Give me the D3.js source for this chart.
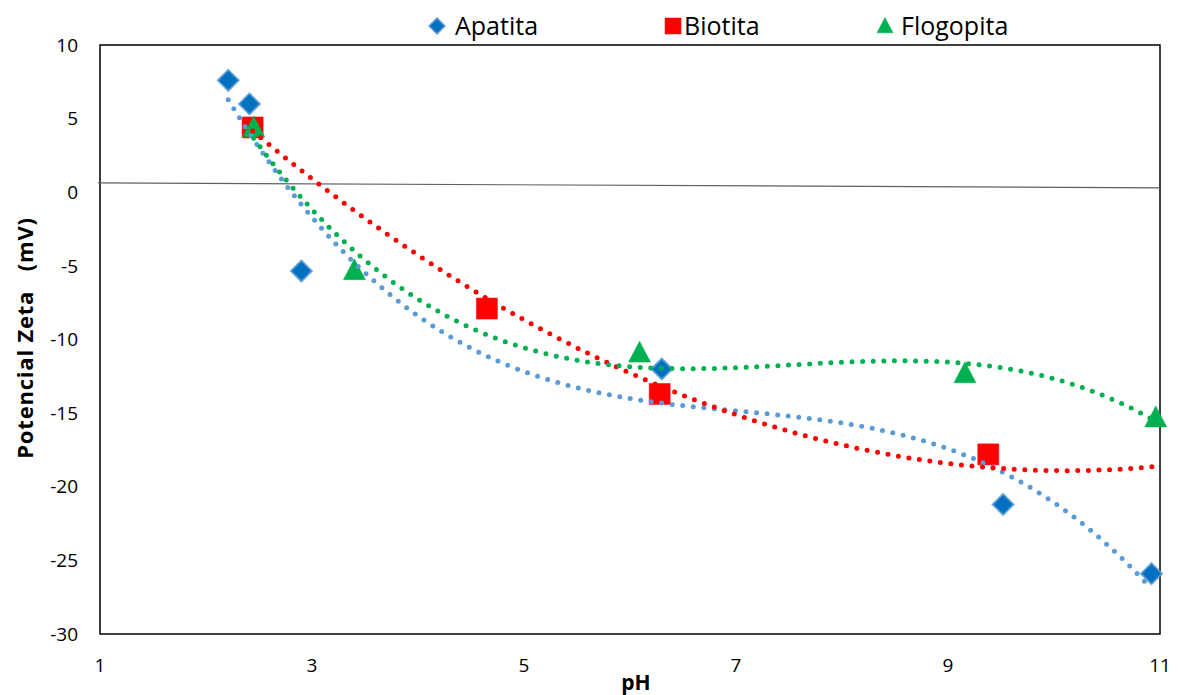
<!DOCTYPE html>
<html>
<head>
<meta charset="utf-8">
<script src="https://cdn.jsdelivr.net/npm/d3@7"></script>
<style>
  html, body { margin: 0; padding: 0; background: #fff; }
  svg { display: block; }
  text { font-family: "Open Sans", Lato, sans-serif; fill: #000; }
</style>
</head>
<body>
<svg id="chart" width="1178" height="695"></svg>
<script>
// Zeta potential vs pH for three minerals
const apatitaPH   = [2.21, 2.41, 2.90, 6.30, 9.52, 10.92];
const apatitaZeta = [7.6, 6.0, -5.35, -12.0, -21.2, -25.9];

const biotitaPH   = [2.44, 4.65, 6.28, 9.38];
const biotitaZeta = [4.4, -7.9, -13.7, -17.8];

const flogopitaPH   = [2.45, 3.40, 6.09, 9.16, 10.96];
const flogopitaZeta = [4.4, -5.3, -10.9, -12.3, -15.3];

// Biotita trendline equation: y = c0 + c1*x + c2*x^2
const biotitaTrendCoef = [21.15, -7.92, 0.3915];

const xTicks = [1, 3, 5, 7, 9, 11];
const yTicks = [10, 5, 0, -5, -10, -15, -20, -25, -30];

// near-zero reference line endpoints (pH, mV)
const refLinePH = [1, 11];
const refLineZeta = [0.64, 0.30];

const series = [
  { name: "Apatita",   x: apatitaPH,   y: apatitaZeta,   order: 3, end: 10.92,
    fill: "#0070C0", stroke: "#5B9BD5", trend: "#5B9BD5", shape: "diamond" },
  { name: "Biotita",   x: biotitaPH,   y: biotitaZeta,   coef: biotitaTrendCoef, end: 10.95,
    fill: "#FF0000", stroke: "#FF0000", trend: "#FF0000", shape: "square" },
  { name: "Flogopita", x: flogopitaPH, y: flogopitaZeta, order: 3, end: 10.95,
    fill: "#00B050", stroke: "#00B050", trend: "#00B050", shape: "triangle" }
];

const svg = d3.select("#chart");
const m = { left: 100, right: 1160, top: 45, bottom: 634 };

const x = d3.scaleLinear().domain([1, 11]).range([m.left, m.right]);
const y = d3.scaleLinear().domain([-30, 10]).range([m.bottom, m.top]);

// least-squares polynomial fit (Gauss-Jordan on the normal equations)
function polyfit(xs, ys, order) {
  const n = order + 1;
  const A = Array.from({ length: n }, () => new Array(n + 1).fill(0));
  for (let k = 0; k < xs.length; k++) {
    for (let i = 0; i < n; i++) {
      for (let j = 0; j < n; j++) A[i][j] += Math.pow(xs[k], i + j);
      A[i][n] += ys[k] * Math.pow(xs[k], i);
    }
  }
  for (let c = 0; c < n; c++) {
    let p = c;
    for (let r = c + 1; r < n; r++) {
      if (Math.abs(A[r][c]) > Math.abs(A[p][c])) p = r;
    }
    const tmp = A[c]; A[c] = A[p]; A[p] = tmp;
    for (let r = 0; r < n; r++) {
      if (r === c) continue;
      const f = A[r][c] / A[c][c];
      for (let j = c; j <= n; j++) A[r][j] -= f * A[c][j];
    }
  }
  return A.map((row, i) => row[n] / row[i]);
}
const evalPoly = (cf, v) => cf.reduce((s, c, i) => s + c * Math.pow(v, i), 0);

// plot frame
svg.append("rect")
  .attr("x", x(1)).attr("y", y(10))
  .attr("width", x(11) - x(1)).attr("height", y(-30) - y(10))
  .attr("fill", "none").attr("stroke", "#000").attr("stroke-width", 1.5);

// reference line
svg.append("line")
  .attr("x1", x(refLinePH[0]) - 2).attr("y1", y(refLineZeta[0]))
  .attr("x2", x(refLinePH[1])).attr("y2", y(refLineZeta[1]))
  .attr("stroke", "#606060").attr("stroke-width", 1.2);

// y tick labels
const yAxis = svg.append("g");
yAxis.selectAll("text").data(yTicks).join("text")
  .attr("x", 78).attr("y", d => y(d)).attr("dy", "0.35em")
  .attr("text-anchor", "end").attr("font-size", 19).text(d => d);

// x tick labels
const xAxis = svg.append("g");
xAxis.selectAll("text").data(xTicks).join("text")
  .attr("x", d => x(d)).attr("y", 672)
  .attr("text-anchor", "middle").attr("font-size", 19).text(d => d);

// axis titles
svg.append("text").attr("x", 636).attr("y", 690)
  .attr("text-anchor", "middle").attr("font-size", 21).attr("font-weight", "bold")
  .text("pH");
svg.append("text")
  .attr("transform", "translate(33,338) rotate(-90)")
  .attr("text-anchor", "middle").attr("font-size", 22).attr("font-weight", "bold")
  .attr("letter-spacing", 0.8)
  .attr("xml:space", "preserve")
  .text("Potencial Zeta   (mV)");

// marker shapes
function marker(shape, size) {
  const h = size / 2;
  if (shape === "diamond") return `M0,${-h * 1.05}L${h * 1.05},0L0,${h * 1.05}L${-h * 1.05},0Z`;
  if (shape === "square") return `M${-h},${-h}H${h}V${h}H${-h}Z`;
  return `M0,${-h * 1.05}L${h},${h * 0.85}L${-h},${h * 0.85}Z`;
}

const markerSize = { diamond: 20, square: 21, triangle: 22 };

// data markers
series.forEach(s => {
  svg.append("g").selectAll("path").data(s.x.map((v, i) => [v, s.y[i]])).join("path")
    .attr("transform", d => `translate(${x(d[0])},${y(d[1])})`)
    .attr("d", marker(s.shape, markerSize[s.shape]))
    .attr("fill", s.fill)
    .attr("stroke", s.stroke)
    .attr("stroke-width", s.shape === "diamond" ? 2 : 0.5)
    .attr("stroke-opacity", s.shape === "diamond" ? 0.8 : 1);
});

// dotted polynomial trendlines, drawn above markers
const line = d3.line().x(d => x(d[0])).y(d => y(d[1]));
series.forEach(s => {
  const cf = s.coef || polyfit(s.x, s.y, s.order);
  const x0 = d3.min(s.x);
  const pts = d3.range(0, 301).map(i => {
    const v = x0 + (s.end - x0) * i / 300;
    return [v, evalPoly(cf, v)];
  });
  svg.append("path").datum(pts)
    .attr("d", line)
    .attr("fill", "none")
    .attr("stroke", s.trend)
    .attr("stroke-width", 5)
    .attr("stroke-linecap", "round")
    .attr("stroke-dasharray", "0 10.6");
});

// legend
const legendItems = [
  { s: series[0], mx: 437, tx: 455 },
  { s: series[1], mx: 673, tx: 684 },
  { s: series[2], mx: 885, tx: 901 }
];
const lg = svg.append("g");
legendItems.forEach(it => {
  lg.append("path")
    .attr("transform", `translate(${it.mx},26)`)
    .attr("d", marker(it.s.shape, it.s.shape === "diamond" ? 15 : 16))
    .attr("fill", it.s.fill)
    .attr("stroke", it.s.stroke)
    .attr("stroke-width", it.s.shape === "diamond" ? 1.5 : 0.5);
  lg.append("text")
    .attr("x", it.tx).attr("y", 26).attr("dy", "0.35em")
    .attr("font-size", 25).text(it.s.name);
});
</script>
</body>
</html>
